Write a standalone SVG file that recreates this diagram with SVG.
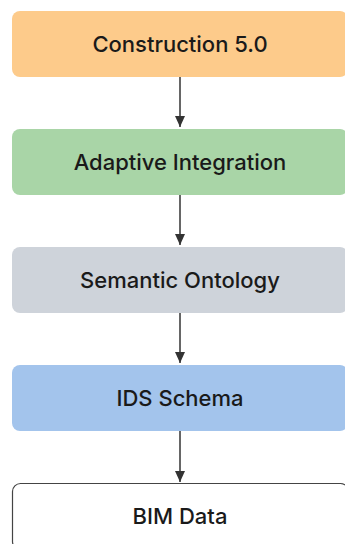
<svg xmlns="http://www.w3.org/2000/svg" width="345" height="544" viewBox="0 0 345 544">
<style>
.box{stroke:none}
.lbl{font-family:Inter,"Noto Sans",sans-serif;font-size:22px;font-weight:500;fill:#1a1a1a;text-anchor:middle}
.edge{stroke:#333;stroke-width:1.5;fill:none}
</style>
<defs>
<marker id="ah" markerWidth="12" markerHeight="10" refX="11" refY="5" orient="auto" markerUnits="userSpaceOnUse">
<path d="M0,0 L11,5 L0,10 Z" fill="#333"/>
</marker>
</defs>
<rect width="345" height="544" fill="#ffffff"/>
<g id="n1"><rect class="box" x="12" y="11" width="336" height="66" rx="8" fill="#FDCB8B"/><text class="lbl" x="180" y="52">Construction 5.0</text></g>
<g id="n2"><rect class="box" x="12" y="129" width="336" height="66" rx="8" fill="#A9D5A7"/><text class="lbl" x="180" y="170">Adaptive Integration</text></g>
<g id="n3"><rect class="box" x="12" y="247" width="336" height="66" rx="8" fill="#CED3DA"/><text class="lbl" x="180" y="288">Semantic Ontology</text></g>
<g id="n4"><rect class="box" x="12" y="365" width="336" height="66" rx="8" fill="#A3C4EC"/><text class="lbl" x="180" y="406">IDS Schema</text></g>
<g id="n5"><rect x="12.5" y="483.5" width="336" height="66" rx="8" fill="#ffffff" stroke="#444" stroke-width="1.2"/><text class="lbl" x="180" y="524">BIM Data</text></g>
<g id="edges">
<line class="edge" x1="180" y1="77" x2="180" y2="127" marker-end="url(#ah)"/>
<line class="edge" x1="180" y1="195" x2="180" y2="245" marker-end="url(#ah)"/>
<line class="edge" x1="180" y1="313" x2="180" y2="363" marker-end="url(#ah)"/>
<line class="edge" x1="180" y1="431" x2="180" y2="482" marker-end="url(#ah)"/>
</g>
</svg>
